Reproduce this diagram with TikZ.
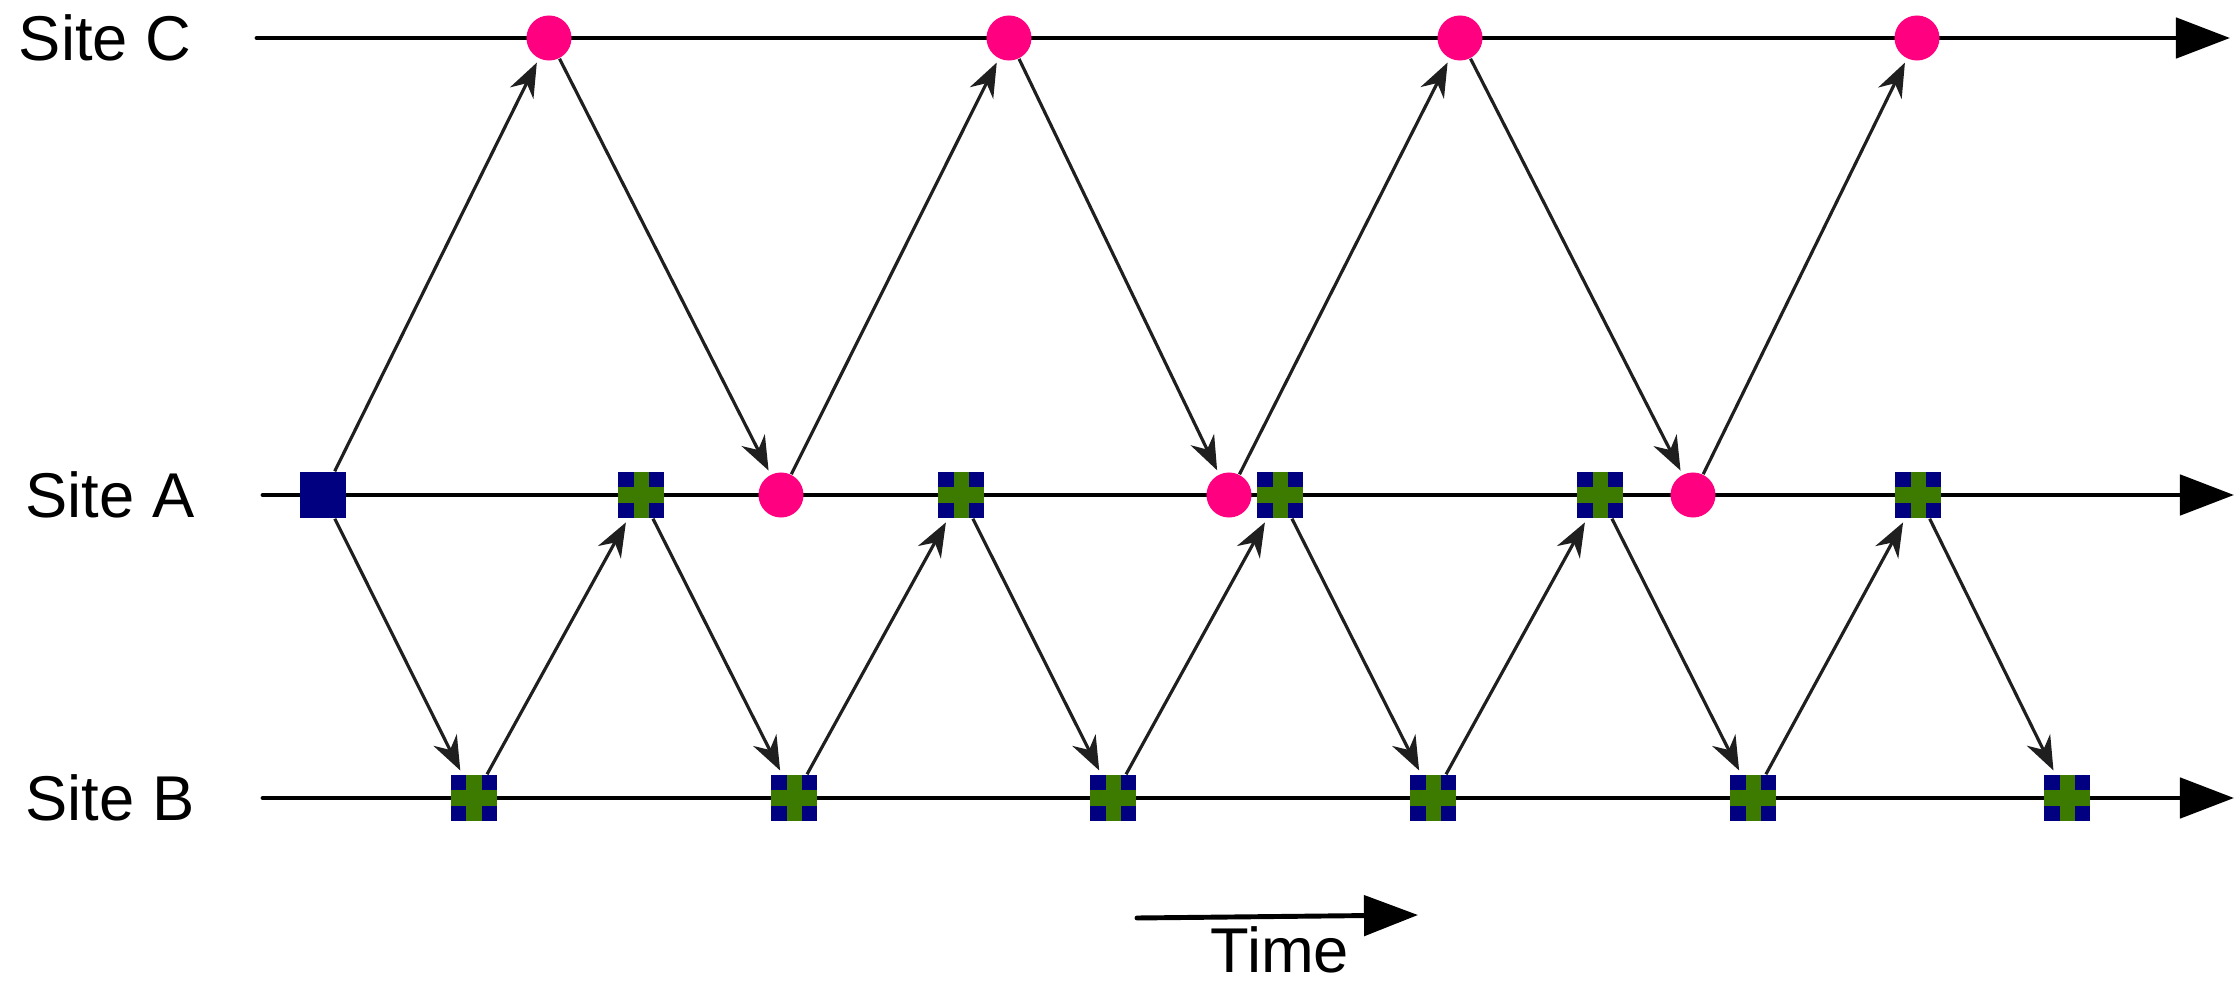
\documentclass[tikz,border=0pt]{standalone}
\usepackage{fontspec}
\setmainfont{Liberation Sans}
\usetikzlibrary{arrows.meta}
\definecolor{navy}{HTML}{000080}
\definecolor{rose}{HTML}{FF0080}
\definecolor{leaf}{HTML}{3D7A00}
\tikzset{
  timeline/.style={line width=1.4pt, line cap=round, -{Triangle[length=0.54cm,width=0.4cm]}},
  msg/.style={draw=black!88, line width=0.9pt, shorten >=1.2pt, -{Stealth[length=0.34cm,width=0.26cm,inset=0.11cm]}},
  blk/.style={fill=navy, minimum size=0.46cm, inner sep=0pt},
  blkx/.style={blk, path picture={
    \fill[leaf] ([xshift=-0.075cm]path picture bounding box.south) rectangle ([xshift=0.075cm]path picture bounding box.north);
    \fill[leaf] ([yshift=-0.075cm]path picture bounding box.west) rectangle ([yshift=0.075cm]path picture bounding box.east);}},
  ack/.style={circle, fill=rose, minimum size=0.45cm, inner sep=0pt},
  site/.style={font=\fontsize{18}{20}\selectfont},
}

\begin{document}
\begin{tikzpicture}[x=0.01cm,y=-0.01cm]
    \useasboundingbox (0,0) rectangle (2238,982);
    % the three sites
    \node[site] (lc) at (105,38) {Site C};
    \node[site] (la) at (110,495) {Site A};
    \node[site] (lb) at (110,798) {Site B};
    \coordinate (c0) at (257,38);  \coordinate (cE) at (2230,38);
    \coordinate (a0) at (263,495); \coordinate (aE) at (2234,495);
    \coordinate (b0) at (263,798); \coordinate (bE) at (2234,798);
    \draw[timeline] (c0) -- (cE);
    \draw[timeline] (a0) -- (aE);
    \draw[timeline] (b0) -- (bE);
    % events on site C
    \foreach \n/\x in {1/549,2/1009,3/1460,4/1917}
        \node[ack] (c\n) at (\x,38) {};
    % events on site A
    \node[blk] (s) at (323,495) {};
    \foreach \n/\x in {1/641,2/961,3/1280,4/1600,5/1918}
        \node[blkx] (a\n) at (\x,495) {};
    \foreach \n/\x in {1/781,2/1229,3/1693}
        \node[ack] (r\n) at (\x,495) {};
    % events on site B
    \foreach \n/\x in {1/474,2/794,3/1113,4/1433,5/1753,6/2067}
        \node[blkx] (b\n) at (\x,798) {};
    % messages
    \draw[msg] (s) -- (c1);
    \draw[msg] (s) -- (b1);
    \draw[msg] (c1) -- (r1);
    \draw[msg] (r1) -- (c2);
    \draw[msg] (c2) -- (r2);
    \draw[msg] (r2) -- (c3);
    \draw[msg] (c3) -- (r3);
    \draw[msg] (r3) -- (c4);
    \foreach \n [evaluate=\n as \m using int(\n+1)] in {1,...,5} {
        \draw[msg] (b\n) -- (a\n);
        \draw[msg] (a\n) -- (b\m);
    }
    % time
    \coordinate (t0) at (1137,918);
    \coordinate (t1) at (1418,915);
    \draw[timeline] (t0) -- (t1);
    \node[site] (time) at (1280,950) {Time};
\end{tikzpicture}
\end{document}
